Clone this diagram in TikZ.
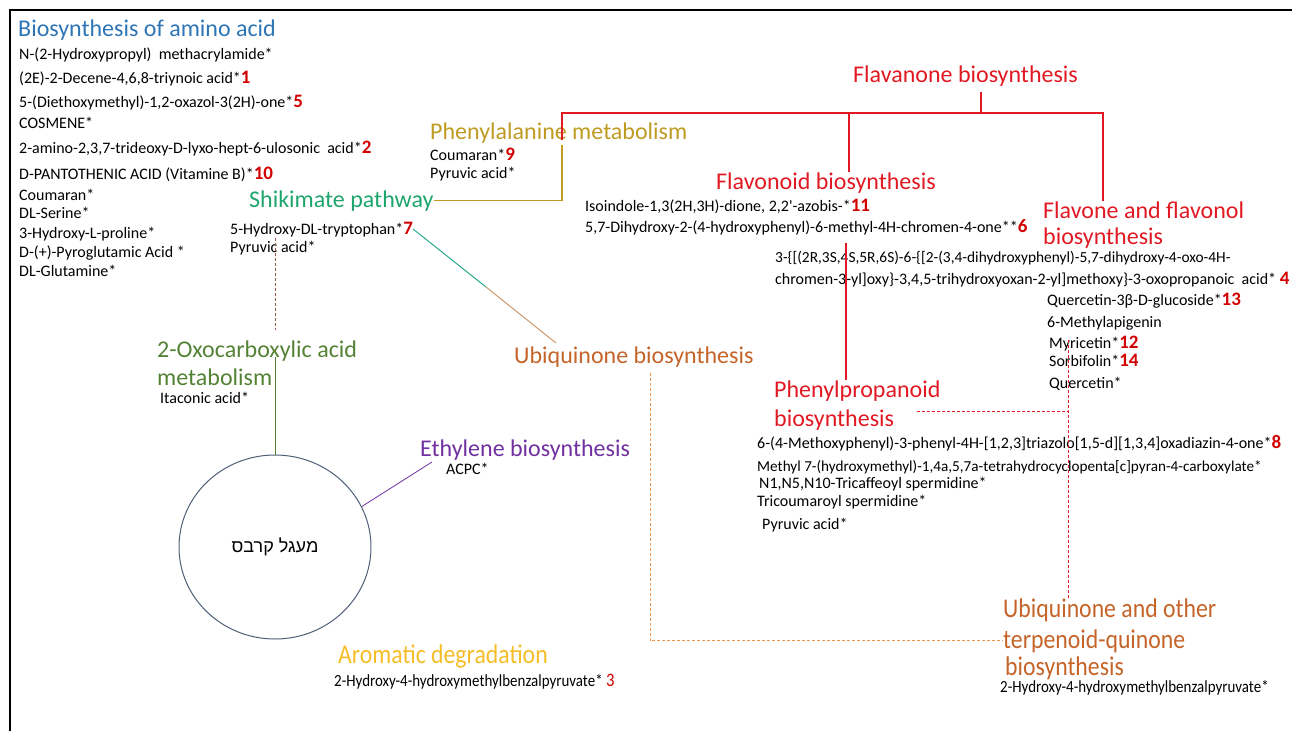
\documentclass[tikz,border=0pt]{standalone}
\usepackage{fontspec}
\setmainfont{Carlito}
\newfontfamily\hebfont[Script=Hebrew]{Liberation Sans}
\newfontfamily\narrowfont[FakeStretch=0.88]{Carlito}
\TeXXeTstate=1
\usetikzlibrary{shapes.geometric}
\definecolor{numred}{RGB}{210,0,0}
\definecolor{flavred}{RGB}{225,25,35}
\definecolor{aminoblue}{RGB}{46,117,182}
\definecolor{shikgreen}{RGB}{30,165,110}
\definecolor{phegold}{RGB}{191,155,35}
\definecolor{oxogreen}{RGB}{84,130,53}
\definecolor{ubqorange}{RGB}{197,100,40}
\definecolor{ethpurple}{RGB}{112,48,160}
\definecolor{aromyellow}{RGB}{245,190,40}
\definecolor{krebsline}{RGB}{80,95,120}
\definecolor{tealline}{RGB}{40,170,140}
\definecolor{tanline}{RGB}{205,150,105}
\definecolor{dashbrown}{RGB}{150,90,80}
\definecolor{dashorange}{RGB}{235,150,80}
\newcommand{\rnum}[1]{{\fontsize{19}{20}\selectfont\bfseries\color{numred}#1}}

\begin{document}
\begin{tikzpicture}[x=1pt,y=-1pt]
\tikzstyle{pathway}=[inner sep=0pt, anchor=base west, font=\fontsize{24}{26}\selectfont]
\tikzstyle{narrowway}=[inner sep=0pt, anchor=base west, font=\narrowfont\fontsize{27}{29}\selectfont]
\tikzstyle{compound}=[inner sep=0pt, anchor=base west, font=\fontsize{16}{18}\selectfont]
\tikzstyle{narrowcomp}=[inner sep=0pt, anchor=base west, font=\narrowfont\fontsize{17}{19}\selectfont]
\tikzstyle{krebs}=[draw=krebsline, line width=1pt, shape=ellipse, minimum width=192pt, minimum height=184pt, inner sep=0pt]
\tikzstyle{redln}=[draw=flavred, line width=1.2pt]
\tikzstyle{dashln}=[line width=0.9pt, dash pattern=on 3pt off 2pt]
\useasboundingbox (0,0) rectangle (1292,731);
\draw[line width=2.5pt] (10,731) -- (10,10) -- (1292,10);

% amino acid list
\node[pathway, text=aminoblue] (amino) at (18,36) {Biosynthesis of amino acid};
\node[compound] (a1) at (19,59) {N-(2-Hydroxypropyl)~ methacrylamide*};
\node[compound] (a2) at (19,83) {(2E)-2-Decene-4,6,8-triynoic acid*\rnum{1}};
\node[compound] (a3) at (19,107) {5-(Diethoxymethyl)-1,2-oxazol-3(2H)-one*\rnum{5}};
\node[compound] (a4) at (19,128) {COSMENE*};
\node[compound] (a5) at (19,153) {2-amino-2,3,7-trideoxy-D-lyxo-hept-6-ulosonic~ acid*\rnum{2}};
\node[compound] (a6) at (19,179) {D-PANTOTHENIC ACID (Vitamine B)*\rnum{10}};
\node[compound] (a7) at (19,200) {Coumaran*};
\node[compound] (a8) at (19,218) {DL-Serine*};
\node[compound] (a9) at (19,238) {3-Hydroxy-L-proline*};
\node[compound] (a10) at (19,257) {D-(+)-Pyroglutamic Acid *};
\node[compound] (a11) at (19,276) {DL-Glutamine*};

% shikimate and phenylalanine
\node[pathway, text=shikgreen] (shik) at (249,207) {Shikimate pathway};
\node[compound] (s1) at (230,234) {5-Hydroxy-DL-tryptophan*\rnum{7}};
\node[compound] (s2) at (230,252) {Pyruvic acid*};
\node[pathway, text=phegold] (phe) at (430,139) {Phenylalanine metabolism};
\node[compound] (p1) at (430,160) {Coumaran*\rnum{9}};
\node[compound] (p2) at (430,178) {Pyruvic acid*};

% flavonoid branch
\node[pathway, text=flavred] (flavanone) at (853,82) {Flavanone biosynthesis};
\node[pathway, text=flavred] (flavonoid) at (716,189) {Flavonoid biosynthesis};
\node[compound] (f1) at (585,211) {Isoindole-1,3(2H,3H)-dione, 2,2\textquotesingle-azobis-*\rnum{11}};
\node[compound] (f2) at (585,232) {5,7-Dihydroxy-2-(4-hydroxyphenyl)-6-methyl-4H-chromen-4-one**\rnum{6}};
\node[compound, font=\fontsize{15.4}{17}\selectfont] (f3) at (775,262) {3-\{[(2R,3S,4S,5R,6S)-6-\{[2-(3,4-dihydroxyphenyl)-5,7-dihydroxy-4-oxo-4H-};
\node[compound] (f4) at (775,284) {chromen-3-yl]oxy\}-3,4,5-trihydroxyoxan-2-yl]methoxy\}-3-oxopropanoic~ acid* \rnum{4}};
\node[pathway, text=flavred] (flavone) at (1043,218) {Flavone and flavonol};
\node[pathway, text=flavred] (flavoneb) at (1043,244) {biosynthesis};
\node[compound] (v1) at (1047,305) {Quercetin-3β-D-glucoside*\rnum{13}};
\node[compound] (v2) at (1047,327) {6-Methylapigenin};
\node[compound] (v3) at (1049,348) {Myricetin*\rnum{12}};
\node[compound] (v4) at (1049,366) {Sorbifolin*\rnum{14}};
\node[compound] (v5) at (1049,388) {Quercetin*};
\node[pathway, text=flavred] (phpr) at (774,397) {Phenylpropanoid};
\node[pathway, text=flavred] (phprb) at (774,426) {biosynthesis};
\node[compound] (h1) at (757,448) {6-(4-Methoxyphenyl)-3-phenyl-4H-[1,2,3]triazolo[1,5-d][1,3,4]oxadiazin-4-one*\rnum{8}};
\node[compound, font=\fontsize{15.2}{17}\selectfont] (h2) at (757,471) {Methyl 7-(hydroxymethyl)-1,4a,5,7a-tetrahydrocyclopenta[c]pyran-4-carboxylate*};
\node[compound] (h3) at (759,488) {N1,N5,N10-Tricaffeoyl spermidine*};
\node[compound] (h4) at (757,506) {Tricoumaroyl spermidine*};
\node[compound] (h5) at (762,529) {Pyruvic acid*};

% lower part
\node[pathway, text=oxogreen] (oxo) at (157,357) {2-Oxocarboxylic acid};
\node[pathway, text=oxogreen] (oxob) at (157,385) {metabolism};
\node[compound] (o1) at (160,403) {Itaconic acid*};
\node[pathway, text=ubqorange] (ubq) at (514,363) {Ubiquinone biosynthesis};
\node[pathway, text=ethpurple] (eth) at (420,456) {Ethylene biosynthesis};
\node[compound] (e1) at (446,474) {ACPC*};
\node[krebs] (krebs) at (275,547) {\hebfont\fontsize{18}{20}\selectfont\beginR מעגל קרבס\endR};
\node[narrowway, text=aromyellow] (arom) at (338,663) {Aromatic degradation};
\node[narrowcomp] (r1) at (334,686) {2-Hydroxy-4-hydroxymethylbenzalpyruvate*~{\fontsize{19}{20}\selectfont\color{numred}3}};
\node[narrowway, text=ubqorange] (uqo) at (1003,617) {Ubiquinone and other};
\node[narrowway, text=ubqorange] (terp) at (1003,648) {terpenoid-quinone};
\node[narrowway, text=ubqorange] (terpb) at (1005,675) {biosynthesis};
\node[narrowcomp] (t1) at (1000,692) {2-Hydroxy-4-hydroxymethylbenzalpyruvate*};

% corner points
\coordinate (knee) at (562,145);
\coordinate (phetop) at (562,140);
\coordinate (redr) at (1103,113);
\coordinate (fnd) at (849,113);
\coordinate (stubtop) at (981,92);
\coordinate (stubend) at (990,113);
\coordinate (ppt) at (846,243);
\coordinate (dr1) at (1068,340);
\coordinate (dr2) at (1068,600);
\coordinate (dr3) at (917,411);
\coordinate (db1) at (275,238);
\coordinate (db2) at (275,330);
\coordinate (tt) at (486,287);
\coordinate (ue) at (556,343);
\coordinate (eend) at (432,462);
\coordinate (do1) at (650,373);

% connectors
\draw[phegold, line width=1.3pt] (shik.east) -| (knee);
\draw[redln] (phetop) |- (redr) -- (flavone.north -| redr);
\draw[redln] (fnd) -- (flavonoid.north -| fnd);
\draw[redln] (stubtop) |- (stubend);
\draw[redln] (ppt) -- (phpr.north -| ppt);
\draw[dashln, flavred] (dr1) -- (dr2);
\draw[dashln, flavred] (dr3) -- (dr3 -| dr1);
\draw[dashln, dashbrown] (db1) -- (db2);
\draw[oxogreen, line width=1pt] (krebs.north) -- (oxo.base -| krebs.north);
\draw[tealline, line width=1pt] (s1.east) -- (tt);
\draw[tanline, line width=1pt] (tt) -- (ue);
\draw[ethpurple, line width=0.8pt] (krebs.25) -- (eend);
\draw[dashln, dashorange] (do1) |- (terp.west);

\end{tikzpicture}
\end{document}
